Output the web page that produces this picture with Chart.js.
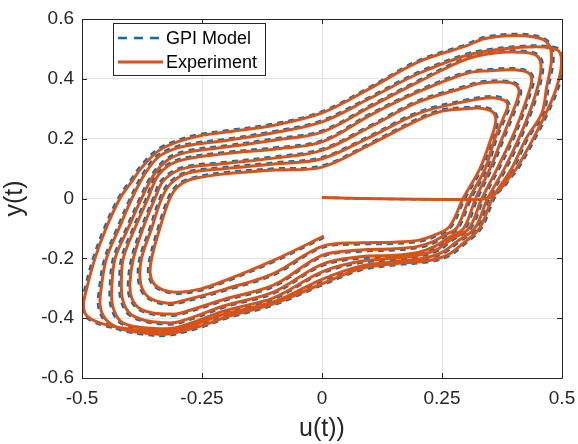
<!DOCTYPE html>
<html>
<head>
<meta charset="utf-8">
<script src="https://cdn.jsdelivr.net/npm/chart.js@4.4.1/dist/chart.umd.min.js"></script>
<style>
  html, body { margin: 0; padding: 0; background: #fff; }
  #wrap { width: 578px; height: 444px; position: relative; }
</style>
</head>
<body>
<div id="wrap"><canvas id="hyst"></canvas></div>
<script>
// axis ticks
var uTicks = [-0.5, -0.25, 0, 0.25, 0.5];
var uTickLabels = ['-0.5', '-0.25', '0', '0.25', '0.5'];
var yTicks = [-0.6, -0.4, -0.2, 0, 0.2, 0.4, 0.6];
var yTickLabels = ['-0.6', '-0.4', '-0.2', '0', '0.2', '0.4', '0.6'];

var seriesNames = ['GPI Model', 'Experiment'];
var colors = ['#0072BD', '#D95319'];

// measured response, [u, y] pairs, one row per loop (largest loop first)
var experiment = [
  [0,0.003],[0.08,0],[0.16,-0.002],[0.24,-0.003],[0.3,-0.003],[0.34,0],[0.37,0.03],[0.39,0.07],
  [0.405,0.1],[0.44,0.2],[0.468,0.29],[0.489,0.372],[0.499,0.45],[0.493,0.493],[0.465,0.506],[0.41,0.505],[0.35,0.495],[0.3,0.478],[0.2,0.417],[0.1,0.335],[0,0.256],[-0.1,0.22],[-0.2,0.194],[-0.26,0.182],[-0.3,0.17],[-0.34,0.14],[-0.37,0.08],[-0.396,0],[-0.423,-0.1],[-0.449,-0.2],[-0.46,-0.3],[-0.462,-0.36],[-0.45,-0.405],[-0.42,-0.435],[-0.37,-0.45],[-0.32,-0.453],[-0.25,-0.425],[-0.2,-0.396],[-0.1,-0.351],[0,-0.285],[0.08,-0.235],[0.15,-0.218],[0.22,-0.208],[0.26,-0.19],[0.29,-0.155],
  [0.328,-0.1],[0.355,0],[0.395,0.1],[0.425,0.2],[0.458,0.285],[0.468,0.372],[0.478,0.46],[0.474,0.51],[0.455,0.535],[0.405,0.545],[0.34,0.535],[0.3,0.51],[0.2,0.456],[0.1,0.368],[0,0.286],[-0.1,0.245],[-0.2,0.222],[-0.254,0.21],[-0.3,0.19],[-0.34,0.16],[-0.372,0.11],[-0.395,0.06],[-0.421,0],[-0.45,-0.1],[-0.473,-0.2],[-0.49,-0.3],[-0.497,-0.36],[-0.488,-0.395],[-0.455,-0.42],[-0.4,-0.437],[-0.35,-0.443],[-0.3,-0.44],[-0.2,-0.385],[-0.1,-0.345],[0,-0.27],[0.08,-0.226],[0.15,-0.212],[0.21,-0.2],[0.25,-0.18],[0.28,-0.145],
  [0.318,-0.1],[0.345,0],[0.38,0.1],[0.41,0.2],[0.435,0.3],[0.452,0.39],[0.456,0.45],[0.445,0.48],[0.41,0.489],[0.36,0.486],[0.3,0.465],[0.2,0.389],[0.1,0.306],[0,0.222],[-0.1,0.195],[-0.2,0.172],[-0.28,0.155],[-0.32,0.13],[-0.35,0.08],[-0.376,0],[-0.404,-0.1],[-0.431,-0.2],[-0.438,-0.3],[-0.436,-0.36],[-0.42,-0.41],[-0.39,-0.428],[-0.34,-0.435],[-0.3,-0.43],[-0.2,-0.374],[-0.1,-0.331],[0,-0.245],[0.08,-0.21],[0.15,-0.2],[0.2,-0.19],[0.24,-0.17],[0.27,-0.135],
  [0.306,-0.1],[0.333,0],[0.365,0.1],[0.395,0.2],[0.415,0.28],[0.43,0.35],[0.437,0.395],[0.43,0.42],[0.4,0.43],[0.35,0.427],[0.3,0.418],[0.2,0.356],[0.1,0.278],[0,0.189],[-0.1,0.165],[-0.2,0.15],[-0.3,0.125],[-0.34,0.08],[-0.3625,0],[-0.39,-0.1],[-0.414,-0.2],[-0.418,-0.28],[-0.415,-0.34],[-0.4,-0.385],[-0.37,-0.407],[-0.33,-0.415],[-0.3,-0.413],[-0.2,-0.357],[-0.1,-0.312],[0,-0.22],[0.08,-0.195],[0.15,-0.19],[0.2,-0.18],[0.235,-0.16],[0.265,-0.13],
  [0.295,-0.1],[0.32,0],[0.35,0.1],[0.375,0.2],[0.395,0.28],[0.408,0.335],[0.41,0.365],[0.4,0.383],[0.375,0.389],[0.33,0.385],[0.3,0.372],[0.2,0.322],[0.1,0.239],[0,0.161],[-0.1,0.135],[-0.2,0.117],[-0.29,0.1],[-0.33,0.06],[-0.348,0],[-0.373,-0.1],[-0.393,-0.2],[-0.4,-0.28],[-0.397,-0.33],[-0.382,-0.365],[-0.355,-0.382],[-0.32,-0.386],[-0.3,-0.385],[-0.2,-0.335],[-0.1,-0.289],[0,-0.19],[0.08,-0.172],[0.15,-0.168],[0.2,-0.16],[0.23,-0.145],[0.258,-0.12],
  [0.28,-0.1],[0.307,0],[0.34,0.1],[0.36,0.2],[0.378,0.27],[0.387,0.31],[0.38,0.328],[0.355,0.337],[0.3,0.325],[0.2,0.284],[0.1,0.205],[0,0.133],[-0.1,0.115],[-0.2,0.1],[-0.28,0.085],[-0.315,0.05],[-0.334,0],[-0.355,-0.1],[-0.376,-0.2],[-0.379,-0.27],[-0.37,-0.315],[-0.35,-0.34],[-0.32,-0.35],[-0.3,-0.346],[-0.2,-0.302],[-0.1,-0.25],[0,-0.16],[0.08,-0.148],[0.15,-0.146],[0.2,-0.14],[0.23,-0.125],
  [0.265,-0.095],[0.294,0],[0.329,0.1],[0.352,0.2],[0.362,0.26],[0.355,0.29],[0.33,0.302],[0.3,0.3],[0.25,0.292],[0.2,0.262],[0.1,0.18],[0,0.105],[-0.1,0.095],[-0.2,0.083],[-0.27,0.065],[-0.3,0.04],[-0.317,0],[-0.338,-0.1],[-0.355,-0.2],[-0.358,-0.25],[-0.35,-0.285],[-0.33,-0.306],[-0.3,-0.313],[-0.254,-0.303],[-0.2,-0.273],[-0.1,-0.206],[0.004,-0.126]
];

// GPI model output, same layout
var gpiModel = [
  [0,0.003],[0.08,0],[0.16,-0.002],[0.24,-0.003],[0.3,-0.003],[0.343,0],[0.374,0.03],[0.394,0.07],
  [0.409,0.1],[0.444,0.2],[0.472,0.29],[0.493,0.372],[0.503,0.451],[0.496,0.497],[0.466,0.51],[0.41,0.509],[0.35,0.499],[0.3,0.483],[0.2,0.422],[0.1,0.34],[0,0.261],[-0.1,0.225],[-0.2,0.199],[-0.26,0.187],[-0.303,0.174],[-0.344,0.143],[-0.374,0.081],[-0.4,0],[-0.427,-0.1],[-0.453,-0.2],[-0.464,-0.3],[-0.466,-0.361],[-0.453,-0.408],[-0.422,-0.439],[-0.37,-0.455],[-0.32,-0.458],[-0.25,-0.43],[-0.2,-0.401],[-0.1,-0.356],[0,-0.29],[0.08,-0.24],[0.15,-0.223],[0.223,-0.212],[0.264,-0.193],[0.294,-0.157],
  [0.332,-0.1],[0.359,0],[0.399,0.1],[0.429,0.2],[0.462,0.285],[0.472,0.372],[0.482,0.46],[0.478,0.512],[0.457,0.539],[0.405,0.55],[0.34,0.54],[0.3,0.515],[0.2,0.461],[0.1,0.373],[0,0.291],[-0.1,0.25],[-0.2,0.227],[-0.255,0.215],[-0.303,0.194],[-0.344,0.163],[-0.376,0.112],[-0.399,0.061],[-0.425,0],[-0.454,-0.1],[-0.477,-0.2],[-0.494,-0.3],[-0.501,-0.361],[-0.491,-0.398],[-0.456,-0.424],[-0.4,-0.442],[-0.35,-0.448],[-0.3,-0.445],[-0.2,-0.39],[-0.1,-0.35],[0,-0.275],[0.08,-0.231],[0.15,-0.217],[0.213,-0.204],[0.254,-0.183],[0.284,-0.147],
  [0.322,-0.1],[0.349,0],[0.384,0.1],[0.414,0.2],[0.439,0.3],[0.456,0.39],[0.46,0.451],[0.447,0.484],[0.41,0.494],[0.36,0.491],[0.3,0.47],[0.2,0.394],[0.1,0.311],[0,0.227],[-0.1,0.2],[-0.2,0.177],[-0.281,0.16],[-0.324,0.133],[-0.354,0.081],[-0.38,0],[-0.408,-0.1],[-0.435,-0.2],[-0.442,-0.3],[-0.44,-0.361],[-0.423,-0.413],[-0.391,-0.432],[-0.34,-0.44],[-0.3,-0.435],[-0.2,-0.379],[-0.1,-0.336],[0,-0.25],[0.08,-0.215],[0.15,-0.205],[0.203,-0.194],[0.244,-0.173],[0.274,-0.137],
  [0.31,-0.1],[0.337,0],[0.369,0.1],[0.399,0.2],[0.419,0.28],[0.434,0.35],[0.441,0.396],[0.432,0.424],[0.4,0.435],[0.35,0.432],[0.3,0.423],[0.2,0.361],[0.1,0.283],[0,0.194],[-0.1,0.17],[-0.2,0.155],[-0.302,0.129],[-0.344,0.082],[-0.3665,0],[-0.394,-0.1],[-0.418,-0.2],[-0.422,-0.28],[-0.419,-0.341],[-0.403,-0.388],[-0.371,-0.411],[-0.33,-0.42],[-0.3,-0.418],[-0.2,-0.362],[-0.1,-0.317],[0,-0.225],[0.08,-0.2],[0.15,-0.195],[0.203,-0.184],[0.239,-0.163],[0.269,-0.132],
  [0.299,-0.1],[0.324,0],[0.354,0.1],[0.379,0.2],[0.399,0.28],[0.412,0.335],[0.414,0.366],[0.402,0.387],[0.375,0.394],[0.33,0.39],[0.3,0.377],[0.2,0.327],[0.1,0.244],[0,0.166],[-0.1,0.14],[-0.2,0.122],[-0.292,0.104],[-0.334,0.062],[-0.352,0],[-0.377,-0.1],[-0.397,-0.2],[-0.404,-0.28],[-0.401,-0.331],[-0.385,-0.368],[-0.356,-0.386],[-0.32,-0.391],[-0.3,-0.39],[-0.2,-0.34],[-0.1,-0.294],[0,-0.195],[0.08,-0.177],[0.15,-0.173],[0.203,-0.164],[0.234,-0.148],[0.262,-0.122],
  [0.284,-0.1],[0.311,0],[0.344,0.1],[0.364,0.2],[0.382,0.27],[0.391,0.311],[0.382,0.332],[0.355,0.342],[0.3,0.33],[0.2,0.289],[0.1,0.21],[0,0.138],[-0.1,0.12],[-0.2,0.105],[-0.282,0.089],[-0.319,0.052],[-0.338,0],[-0.359,-0.1],[-0.38,-0.2],[-0.383,-0.27],[-0.373,-0.318],[-0.351,-0.344],[-0.32,-0.355],[-0.3,-0.351],[-0.2,-0.307],[-0.1,-0.255],[0,-0.165],[0.08,-0.153],[0.15,-0.151],[0.203,-0.144],[0.234,-0.128],
  [0.269,-0.095],[0.298,0],[0.333,0.1],[0.356,0.2],[0.366,0.261],[0.357,0.294],[0.33,0.307],[0.3,0.305],[0.25,0.297],[0.2,0.267],[0.1,0.185],[0,0.11],[-0.1,0.1],[-0.2,0.088],[-0.272,0.069],[-0.304,0.042],[-0.321,0],[-0.342,-0.1],[-0.359,-0.2],[-0.362,-0.251],[-0.353,-0.288],[-0.331,-0.31],[-0.3,-0.318],[-0.254,-0.308],[-0.2,-0.278],[-0.1,-0.211],[0.004,-0.131]
];

var fontFamily = '"Liberation Sans", Arial, Helvetica, sans-serif';
var axisColor = '#262626';

function toPoints(rows) {
  return rows.map(function (r) { return { x: r[0], y: r[1] }; });
}

function labelFor(list, labels, v) {
  for (var i = 0; i < list.length; i++) {
    if (Math.abs(list[i] - v) < 1e-9) return labels[i];
  }
  return '';
}

// matlab style box with inward ticks, plus the legend
var boxPlugin = {
  id: 'matlabBox',
  afterDatasetsDraw: function (chart) {
    var ctx = chart.ctx, a = chart.chartArea;
    var xs = chart.scales.x, ys = chart.scales.y;
    var tl = 5;
    ctx.save();
    ctx.strokeStyle = axisColor;
    ctx.lineWidth = 1;
    ctx.beginPath();
    ctx.rect(Math.round(a.left) + 0.5, Math.round(a.top) + 0.5,
             Math.round(a.right - a.left), Math.round(a.bottom - a.top));
    uTicks.forEach(function (v) {
      var px = Math.round(xs.getPixelForValue(v)) + 0.5;
      ctx.moveTo(px, a.bottom); ctx.lineTo(px, a.bottom - tl);
      ctx.moveTo(px, a.top); ctx.lineTo(px, a.top + tl);
    });
    yTicks.forEach(function (v) {
      var py = Math.round(ys.getPixelForValue(v)) + 0.5;
      ctx.moveTo(a.left, py); ctx.lineTo(a.left + tl, py);
      ctx.moveTo(a.right, py); ctx.lineTo(a.right - tl, py);
    });
    ctx.stroke();

    // legend box
    var bx = 113.5, by = 23.5, bw = 152, bh = 52;
    ctx.fillStyle = '#fff';
    ctx.fillRect(bx, by, bw, bh);
    ctx.strokeStyle = '#262626';
    ctx.strokeRect(bx, by, bw, bh);
    var rows = [38, 62];
    ctx.font = '18px ' + fontFamily;
    ctx.textBaseline = 'middle';
    ctx.textAlign = 'left';
    for (var i = 0; i < 2; i++) {
      ctx.beginPath();
      ctx.lineWidth = i === 0 ? 2.5 : 3;
      ctx.strokeStyle = colors[i];
      ctx.setLineDash(i === 0 ? [9, 7] : []);
      ctx.moveTo(118, rows[i]); ctx.lineTo(163, rows[i]);
      ctx.stroke();
      ctx.setLineDash([]);
      ctx.fillStyle = '#000';
      ctx.fillText(seriesNames[i], 166, rows[i] + 1);
    }
    ctx.restore();
  }
};

new Chart(document.getElementById('hyst'), {
  type: 'scatter',
  data: {
    datasets: [
      {
        label: seriesNames[1],
        data: toPoints(experiment),
        showLine: true,
        borderColor: colors[1],
        borderWidth: 3,
        pointRadius: 0,
        tension: 0.35,
        fill: false,
        order: 1
      },
      {
        label: seriesNames[0],
        data: toPoints(gpiModel),
        showLine: true,
        borderColor: colors[0],
        borderWidth: 2.5,
        borderDash: [6, 5],
        pointRadius: 0,
        tension: 0.35,
        fill: false,
        order: 2
      }
    ]
  },
  options: {
    responsive: true,
    maintainAspectRatio: false,
    animation: false,
    devicePixelRatio: 1,
    layout: { padding: { top: 19, right: 16, left: 0, bottom: 0 } },
    plugins: { legend: { display: false }, tooltip: { enabled: false } },
    scales: {
      x: {
        type: 'linear', min: -0.5, max: 0.5,
        afterBuildTicks: function (s) { s.ticks = uTicks.map(function (v) { return { value: v }; }); },
        afterFit: function (s) { s.height = 66; s.paddingLeft = 0; s.paddingRight = 0; },
        grid: { color: '#e2e2e2', drawTicks: false },
        border: { display: false },
        ticks: {
          autoSkip: false, maxRotation: 0, padding: 9, color: axisColor,
          font: { family: fontFamily, size: 19 },
          callback: function (v) { return labelFor(uTicks, uTickLabels, v); }
        },
        title: { display: true, text: 'u(t))', color: axisColor,
                 font: { family: fontFamily, size: 25 }, padding: { top: 2, bottom: 0 } }
      },
      y: {
        type: 'linear', min: -0.6, max: 0.6,
        afterBuildTicks: function (s) { s.ticks = yTicks.map(function (v) { return { value: v }; }); },
        afterFit: function (s) { s.width = 82; s.paddingTop = 0; s.paddingBottom = 0; },
        grid: { color: '#e2e2e2', drawTicks: false },
        border: { display: false },
        ticks: {
          autoSkip: false, padding: 8, color: axisColor,
          font: { family: fontFamily, size: 19 },
          callback: function (v) { return labelFor(yTicks, yTickLabels, v); }
        },
        title: { display: true, text: 'y(t)', color: axisColor,
                 font: { family: fontFamily, size: 25 }, padding: { top: 0, bottom: 0 } }
      }
    }
  },
  plugins: [boxPlugin]
});
</script>
</body>
</html>
